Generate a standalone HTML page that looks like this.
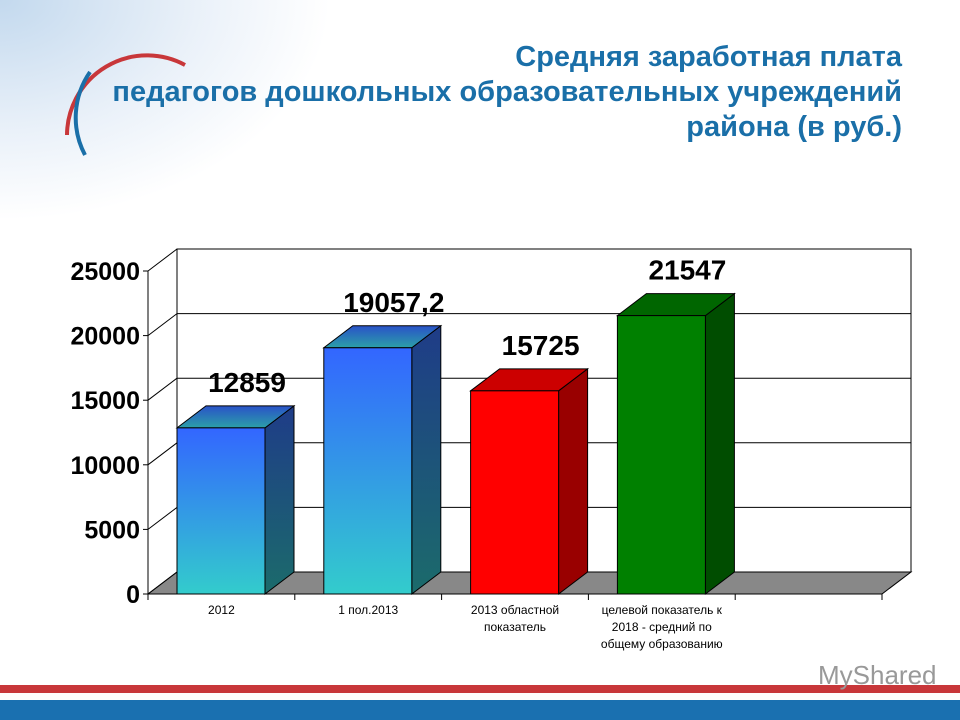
<!DOCTYPE html>
<html><head><meta charset="utf-8"><style>
body{margin:0;width:960px;height:720px;overflow:hidden;background:#fff;font-family:"Liberation Sans",sans-serif}
#bg{position:absolute;left:0;top:0;width:960px;height:720px}
.t{position:absolute;right:58px;text-align:right;color:#1a6fa8;font-weight:bold;font-size:29px;line-height:35px;white-space:nowrap}
</style></head><body>
<svg id="bg" width="960" height="720">
<defs>
<radialGradient id="sky" cx="0" cy="0" r="1"><stop offset="0" stop-color="#c3d9ee"/><stop offset="0.6" stop-color="#eaf1f9"/><stop offset="1" stop-color="#fff"/></radialGradient>
<linearGradient id="blue" x1="0" y1="0" x2="0" y2="1"><stop offset="0" stop-color="#3366ff"/><stop offset="1" stop-color="#33cccc"/></linearGradient>
<linearGradient id="blueSide" x1="0" y1="0" x2="0" y2="1"><stop offset="0" stop-color="#1f3c88"/><stop offset="1" stop-color="#1b6b6b"/></linearGradient>
<linearGradient id="blueTop" x1="0" y1="0" x2="0" y2="1"><stop offset="0" stop-color="#2a52c8"/><stop offset="1" stop-color="#2ba0a8"/></linearGradient>
</defs>
<rect x="0" y="0" width="330" height="220" fill="url(#sky)"/>
<path d="M67,135 A80,80 0 0 1 185,65" stroke="#c8373a" stroke-width="4" fill="none"/>
<path d="M90,72 A80,80 0 0 0 85,155" stroke="#1a6fa8" stroke-width="4" fill="none"/>
<rect x="0" y="685" width="960" height="8" fill="#c8373a"/>
<rect x="0" y="700" width="960" height="20" fill="#1a70b0"/>
<text x="818" y="684" font-family="Liberation Sans,sans-serif" font-size="26" fill="#999">MyShared</text>
<g id="chart"></g>
</svg>
<div class="t" style="top:40px">Средняя заработная плата<br>педагогов дошкольных образовательных учреждений<br>района (в руб.)</div>
<script>
const categories=["2012","1 пол.2013","2013 областной|показатель","целевой показатель к|2018  - средний по|общему образованию"];
const values=[12859,19057.2,15725,21547];
const valueLabels=["12859","19057,2","15725","21547"];
const yTicks=[0,5000,10000,15000,20000,25000];
const ns="http://www.w3.org/2000/svg";
const g=document.getElementById("chart");
const X0=148,Y0=594,DX=29,DY=-22,CW=146.8,YMAX=25000,PH=323;
const ys=v=>Y0-v/YMAX*PH;
function el(tag,a,name){const e=document.createElementNS(ns,tag);for(const k in a)e.setAttribute(k,a[k]);


g.appendChild(e);return e;}
const XR=X0+CW*5;
el("rect",{x:X0+DX,y:ys(YMAX)+DY,width:XR-X0,height:PH,fill:"#fff",stroke:"#000","stroke-width":1},"back-wall");
el("polygon",{points:`${X0},${Y0} ${X0+DX},${Y0+DY} ${XR+DX},${Y0+DY} ${XR},${Y0}`,fill:"#888",stroke:"#000","stroke-width":1},"floor");
yTicks.forEach(t=>{const y=ys(t);
if(t>0)el("line",{x1:X0+DX,y1:y+DY,x2:XR+DX,y2:y+DY,stroke:"#000","stroke-width":1},"gridline");
el("line",{x1:X0,y1:y,x2:X0+DX,y2:y+DY,stroke:"#000","stroke-width":1},"side-gridline");
el("line",{x1:X0-5,y1:y,x2:X0,y2:y,stroke:"#000"},"y-tick");
const tx=el("text",{x:X0-8,y:y+9,"text-anchor":"end","font-size":25,"font-weight":"bold","font-family":"Liberation Sans,sans-serif"},"y-tick-label");tx.textContent=t;});
el("line",{x1:X0,y1:ys(YMAX),x2:X0,y2:Y0,stroke:"#000"},"y-axis");
el("line",{x1:X0,y1:Y0,x2:XR,y2:Y0,stroke:"#000"},"x-axis");
for(let i=0;i<=5;i++)el("line",{x1:X0+i*CW,y1:Y0,x2:X0+i*CW,y2:Y0+6,stroke:"#000"},"x-tick");
const fills=[["url(#blue)","url(#blueSide)","url(#blueTop)"],["url(#blue)","url(#blueSide)","url(#blueTop)"],["#ff0000","#990000","#cc0000"],["#008000","#004d00","#006600"]];
values.forEach((v,i)=>{const x=X0+i*CW+29,w=88,y=ys(v);const f=fills[i];
el("polygon",{points:`${x+w},${y} ${x+w+DX},${y+DY} ${x+w+DX},${Y0+DY} ${x+w},${Y0}`,fill:f[1],stroke:"#000","stroke-width":1},"bar-side");
el("polygon",{points:`${x},${y} ${x+DX},${y+DY} ${x+w+DX},${y+DY} ${x+w},${y}`,fill:f[2],stroke:"#000","stroke-width":1},"bar-top");
el("rect",{x:x,y:y,width:w,height:Y0-y,fill:f[0],stroke:"#000","stroke-width":1},"bar-"+i);
const lt=el("text",{x:x+w/2+26,y:y-36,"text-anchor":"middle","font-size":28,"font-weight":"bold","font-family":"Liberation Sans,sans-serif"},"value-label");lt.textContent=valueLabels[i];
const lines=categories[i].split("|");lines.forEach((s,j)=>{const c=el("text",{x:X0+i*CW+CW/2,y:Y0+20+j*17,"text-anchor":"middle","font-size":12,"font-family":"Liberation Sans,sans-serif"},"x-category-label");c.textContent=s;});
});
</script>
</body></html>
